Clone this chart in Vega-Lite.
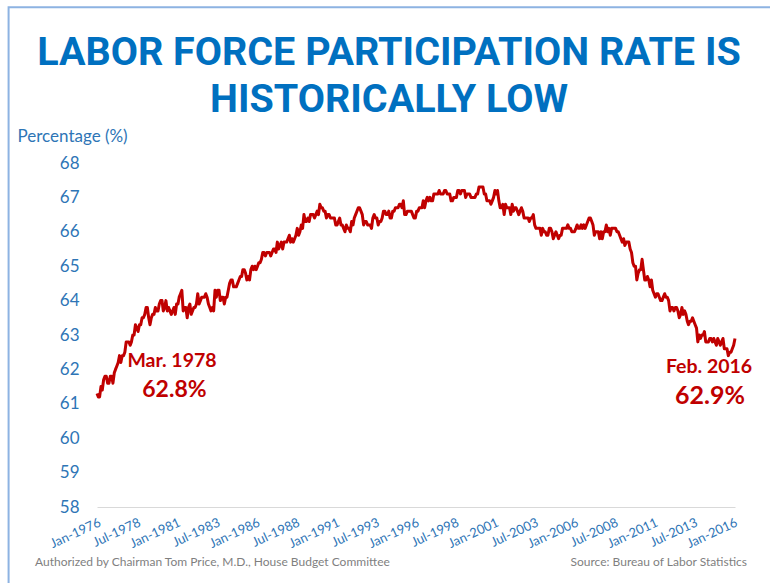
{
  "$schema": "https://vega.github.io/schema/vega-lite/v6.json",
  "autosize": {"type": "none"},
  "width": 638,
  "height": 344,
  "padding": {"left": 97, "top": 163, "right": 35, "bottom": 76},
  "background": "white",
  "config": {"view": {"stroke": null}},
  "title": {
    "text": ["LABOR FORCE PARTICIPATION RATE IS", "HISTORICALLY LOW"],
    "font": "Roboto",
    "fontSize": 39.5,
    "fontWeight": "bold",
    "color": "#0070c0",
    "lineHeight": 47,
    "anchor": "middle",
    "frame": "group",
    "dx": -27,
    "offset": 6,
    "dy": 120
  },
  "resolve": {"axis": {"x": "independent", "y": "independent"}},
  "data": {"values": [
{"date":"1976-01","rate":61.3},{"date":"1976-02","rate":61.2},{"date":"1976-03","rate":61.2},{"date":"1976-04","rate":61.5},{"date":"1976-05","rate":61.4},{"date":"1976-06","rate":61.7},{"date":"1976-07","rate":61.8},{"date":"1976-08","rate":61.8},{"date":"1976-09","rate":61.6},{"date":"1976-10","rate":61.6},{"date":"1976-11","rate":61.8},{"date":"1976-12","rate":61.8},
{"date":"1977-01","rate":61.6},{"date":"1977-02","rate":61.9},{"date":"1977-03","rate":62.0},{"date":"1977-04","rate":62.1},{"date":"1977-05","rate":62.2},{"date":"1977-06","rate":62.4},{"date":"1977-07","rate":62.2},{"date":"1977-08","rate":62.4},{"date":"1977-09","rate":62.4},{"date":"1977-10","rate":62.5},{"date":"1977-11","rate":62.8},{"date":"1977-12","rate":62.8},
{"date":"1978-01","rate":62.8},{"date":"1978-02","rate":62.7},{"date":"1978-03","rate":62.8},{"date":"1978-04","rate":63.0},{"date":"1978-05","rate":63.0},{"date":"1978-06","rate":63.3},{"date":"1978-07","rate":63.2},{"date":"1978-08","rate":63.1},{"date":"1978-09","rate":63.3},{"date":"1978-10","rate":63.3},{"date":"1978-11","rate":63.5},{"date":"1978-12","rate":63.5},
{"date":"1979-01","rate":63.6},{"date":"1979-02","rate":63.8},{"date":"1979-03","rate":63.8},{"date":"1979-04","rate":63.5},{"date":"1979-05","rate":63.3},{"date":"1979-06","rate":63.5},{"date":"1979-07","rate":63.6},{"date":"1979-08","rate":63.6},{"date":"1979-09","rate":63.8},{"date":"1979-10","rate":63.7},{"date":"1979-11","rate":63.7},{"date":"1979-12","rate":63.9},
{"date":"1980-01","rate":64.0},{"date":"1980-02","rate":64.0},{"date":"1980-03","rate":63.7},{"date":"1980-04","rate":63.8},{"date":"1980-05","rate":64.0},{"date":"1980-06","rate":63.7},{"date":"1980-07","rate":63.8},{"date":"1980-08","rate":63.7},{"date":"1980-09","rate":63.6},{"date":"1980-10","rate":63.7},{"date":"1980-11","rate":63.8},{"date":"1980-12","rate":63.6},
{"date":"1981-01","rate":63.9},{"date":"1981-02","rate":63.9},{"date":"1981-03","rate":64.1},{"date":"1981-04","rate":64.2},{"date":"1981-05","rate":64.3},{"date":"1981-06","rate":63.7},{"date":"1981-07","rate":63.8},{"date":"1981-08","rate":63.8},{"date":"1981-09","rate":63.5},{"date":"1981-10","rate":63.8},{"date":"1981-11","rate":63.9},{"date":"1981-12","rate":63.6},
{"date":"1982-01","rate":63.7},{"date":"1982-02","rate":63.8},{"date":"1982-03","rate":63.8},{"date":"1982-04","rate":63.9},{"date":"1982-05","rate":64.2},{"date":"1982-06","rate":63.9},{"date":"1982-07","rate":64.0},{"date":"1982-08","rate":64.1},{"date":"1982-09","rate":64.1},{"date":"1982-10","rate":64.1},{"date":"1982-11","rate":64.2},{"date":"1982-12","rate":64.1},
{"date":"1983-01","rate":63.9},{"date":"1983-02","rate":63.8},{"date":"1983-03","rate":63.7},{"date":"1983-04","rate":63.8},{"date":"1983-05","rate":63.7},{"date":"1983-06","rate":64.3},{"date":"1983-07","rate":64.1},{"date":"1983-08","rate":64.3},{"date":"1983-09","rate":64.3},{"date":"1983-10","rate":64.0},{"date":"1983-11","rate":64.1},{"date":"1983-12","rate":64.1},
{"date":"1984-01","rate":63.9},{"date":"1984-02","rate":64.1},{"date":"1984-03","rate":64.1},{"date":"1984-04","rate":64.3},{"date":"1984-05","rate":64.5},{"date":"1984-06","rate":64.6},{"date":"1984-07","rate":64.6},{"date":"1984-08","rate":64.4},{"date":"1984-09","rate":64.4},{"date":"1984-10","rate":64.4},{"date":"1984-11","rate":64.5},{"date":"1984-12","rate":64.6},
{"date":"1985-01","rate":64.7},{"date":"1985-02","rate":64.7},{"date":"1985-03","rate":64.9},{"date":"1985-04","rate":64.9},{"date":"1985-05","rate":64.8},{"date":"1985-06","rate":64.6},{"date":"1985-07","rate":64.7},{"date":"1985-08","rate":64.6},{"date":"1985-09","rate":64.9},{"date":"1985-10","rate":65.0},{"date":"1985-11","rate":64.9},{"date":"1985-12","rate":65.0},
{"date":"1986-01","rate":64.9},{"date":"1986-02","rate":65.0},{"date":"1986-03","rate":65.1},{"date":"1986-04","rate":65.1},{"date":"1986-05","rate":65.2},{"date":"1986-06","rate":65.4},{"date":"1986-07","rate":65.4},{"date":"1986-08","rate":65.3},{"date":"1986-09","rate":65.4},{"date":"1986-10","rate":65.4},{"date":"1986-11","rate":65.4},{"date":"1986-12","rate":65.3},
{"date":"1987-01","rate":65.4},{"date":"1987-02","rate":65.5},{"date":"1987-03","rate":65.5},{"date":"1987-04","rate":65.4},{"date":"1987-05","rate":65.7},{"date":"1987-06","rate":65.5},{"date":"1987-07","rate":65.6},{"date":"1987-08","rate":65.7},{"date":"1987-09","rate":65.5},{"date":"1987-10","rate":65.7},{"date":"1987-11","rate":65.7},{"date":"1987-12","rate":65.7},
{"date":"1988-01","rate":65.8},{"date":"1988-02","rate":65.9},{"date":"1988-03","rate":65.7},{"date":"1988-04","rate":65.8},{"date":"1988-05","rate":65.7},{"date":"1988-06","rate":65.8},{"date":"1988-07","rate":65.9},{"date":"1988-08","rate":66.1},{"date":"1988-09","rate":65.9},{"date":"1988-10","rate":66.0},{"date":"1988-11","rate":66.2},{"date":"1988-12","rate":66.1},
{"date":"1989-01","rate":66.5},{"date":"1989-02","rate":66.3},{"date":"1989-03","rate":66.3},{"date":"1989-04","rate":66.4},{"date":"1989-05","rate":66.3},{"date":"1989-06","rate":66.5},{"date":"1989-07","rate":66.5},{"date":"1989-08","rate":66.5},{"date":"1989-09","rate":66.4},{"date":"1989-10","rate":66.5},{"date":"1989-11","rate":66.6},{"date":"1989-12","rate":66.5},
{"date":"1990-01","rate":66.8},{"date":"1990-02","rate":66.7},{"date":"1990-03","rate":66.7},{"date":"1990-04","rate":66.6},{"date":"1990-05","rate":66.6},{"date":"1990-06","rate":66.4},{"date":"1990-07","rate":66.5},{"date":"1990-08","rate":66.5},{"date":"1990-09","rate":66.4},{"date":"1990-10","rate":66.4},{"date":"1990-11","rate":66.4},{"date":"1990-12","rate":66.4},
{"date":"1991-01","rate":66.2},{"date":"1991-02","rate":66.2},{"date":"1991-03","rate":66.3},{"date":"1991-04","rate":66.4},{"date":"1991-05","rate":66.2},{"date":"1991-06","rate":66.2},{"date":"1991-07","rate":66.1},{"date":"1991-08","rate":66.0},{"date":"1991-09","rate":66.2},{"date":"1991-10","rate":66.1},{"date":"1991-11","rate":66.1},{"date":"1991-12","rate":66.0},
{"date":"1992-01","rate":66.3},{"date":"1992-02","rate":66.2},{"date":"1992-03","rate":66.4},{"date":"1992-04","rate":66.5},{"date":"1992-05","rate":66.6},{"date":"1992-06","rate":66.7},{"date":"1992-07","rate":66.7},{"date":"1992-08","rate":66.6},{"date":"1992-09","rate":66.5},{"date":"1992-10","rate":66.2},{"date":"1992-11","rate":66.3},{"date":"1992-12","rate":66.3},
{"date":"1993-01","rate":66.2},{"date":"1993-02","rate":66.2},{"date":"1993-03","rate":66.2},{"date":"1993-04","rate":66.1},{"date":"1993-05","rate":66.4},{"date":"1993-06","rate":66.5},{"date":"1993-07","rate":66.4},{"date":"1993-08","rate":66.4},{"date":"1993-09","rate":66.2},{"date":"1993-10","rate":66.3},{"date":"1993-11","rate":66.3},{"date":"1993-12","rate":66.4},
{"date":"1994-01","rate":66.6},{"date":"1994-02","rate":66.6},{"date":"1994-03","rate":66.5},{"date":"1994-04","rate":66.5},{"date":"1994-05","rate":66.6},{"date":"1994-06","rate":66.4},{"date":"1994-07","rate":66.4},{"date":"1994-08","rate":66.6},{"date":"1994-09","rate":66.6},{"date":"1994-10","rate":66.7},{"date":"1994-11","rate":66.7},{"date":"1994-12","rate":66.7},
{"date":"1995-01","rate":66.8},{"date":"1995-02","rate":66.8},{"date":"1995-03","rate":66.7},{"date":"1995-04","rate":66.9},{"date":"1995-05","rate":66.5},{"date":"1995-06","rate":66.5},{"date":"1995-07","rate":66.6},{"date":"1995-08","rate":66.6},{"date":"1995-09","rate":66.6},{"date":"1995-10","rate":66.6},{"date":"1995-11","rate":66.5},{"date":"1995-12","rate":66.4},
{"date":"1996-01","rate":66.4},{"date":"1996-02","rate":66.6},{"date":"1996-03","rate":66.6},{"date":"1996-04","rate":66.7},{"date":"1996-05","rate":66.7},{"date":"1996-06","rate":66.7},{"date":"1996-07","rate":66.9},{"date":"1996-08","rate":66.7},{"date":"1996-09","rate":66.9},{"date":"1996-10","rate":67.0},{"date":"1996-11","rate":66.9},{"date":"1996-12","rate":67.0},
{"date":"1997-01","rate":66.9},{"date":"1997-02","rate":66.9},{"date":"1997-03","rate":67.1},{"date":"1997-04","rate":67.1},{"date":"1997-05","rate":67.1},{"date":"1997-06","rate":67.1},{"date":"1997-07","rate":67.2},{"date":"1997-08","rate":67.1},{"date":"1997-09","rate":67.1},{"date":"1997-10","rate":67.1},{"date":"1997-11","rate":67.2},{"date":"1997-12","rate":67.2},
{"date":"1998-01","rate":67.1},{"date":"1998-02","rate":67.1},{"date":"1998-03","rate":67.1},{"date":"1998-04","rate":66.9},{"date":"1998-05","rate":66.9},{"date":"1998-06","rate":67.0},{"date":"1998-07","rate":67.0},{"date":"1998-08","rate":67.0},{"date":"1998-09","rate":67.2},{"date":"1998-10","rate":67.2},{"date":"1998-11","rate":67.1},{"date":"1998-12","rate":67.2},
{"date":"1999-01","rate":67.2},{"date":"1999-02","rate":67.2},{"date":"1999-03","rate":67.0},{"date":"1999-04","rate":67.1},{"date":"1999-05","rate":67.1},{"date":"1999-06","rate":67.1},{"date":"1999-07","rate":67.0},{"date":"1999-08","rate":67.0},{"date":"1999-09","rate":67.0},{"date":"1999-10","rate":67.0},{"date":"1999-11","rate":67.1},{"date":"1999-12","rate":67.1},
{"date":"2000-01","rate":67.3},{"date":"2000-02","rate":67.3},{"date":"2000-03","rate":67.3},{"date":"2000-04","rate":67.3},{"date":"2000-05","rate":67.1},{"date":"2000-06","rate":67.1},{"date":"2000-07","rate":66.9},{"date":"2000-08","rate":66.9},{"date":"2000-09","rate":66.9},{"date":"2000-10","rate":66.8},{"date":"2000-11","rate":66.9},{"date":"2000-12","rate":67.0},
{"date":"2001-01","rate":67.2},{"date":"2001-02","rate":67.1},{"date":"2001-03","rate":67.2},{"date":"2001-04","rate":66.9},{"date":"2001-05","rate":66.7},{"date":"2001-06","rate":66.7},{"date":"2001-07","rate":66.8},{"date":"2001-08","rate":66.5},{"date":"2001-09","rate":66.8},{"date":"2001-10","rate":66.7},{"date":"2001-11","rate":66.7},{"date":"2001-12","rate":66.7},
{"date":"2002-01","rate":66.5},{"date":"2002-02","rate":66.8},{"date":"2002-03","rate":66.6},{"date":"2002-04","rate":66.7},{"date":"2002-05","rate":66.7},{"date":"2002-06","rate":66.6},{"date":"2002-07","rate":66.5},{"date":"2002-08","rate":66.6},{"date":"2002-09","rate":66.7},{"date":"2002-10","rate":66.6},{"date":"2002-11","rate":66.4},{"date":"2002-12","rate":66.4},
{"date":"2003-01","rate":66.4},{"date":"2003-02","rate":66.4},{"date":"2003-03","rate":66.3},{"date":"2003-04","rate":66.4},{"date":"2003-05","rate":66.4},{"date":"2003-06","rate":66.5},{"date":"2003-07","rate":66.2},{"date":"2003-08","rate":66.1},{"date":"2003-09","rate":66.1},{"date":"2003-10","rate":66.1},{"date":"2003-11","rate":66.1},{"date":"2003-12","rate":65.9},
{"date":"2004-01","rate":66.1},{"date":"2004-02","rate":66.0},{"date":"2004-03","rate":66.0},{"date":"2004-04","rate":65.9},{"date":"2004-05","rate":65.9},{"date":"2004-06","rate":66.1},{"date":"2004-07","rate":66.1},{"date":"2004-08","rate":66.0},{"date":"2004-09","rate":65.8},{"date":"2004-10","rate":65.9},{"date":"2004-11","rate":66.0},{"date":"2004-12","rate":65.9},
{"date":"2005-01","rate":65.8},{"date":"2005-02","rate":65.9},{"date":"2005-03","rate":65.9},{"date":"2005-04","rate":66.1},{"date":"2005-05","rate":66.1},{"date":"2005-06","rate":66.1},{"date":"2005-07","rate":66.1},{"date":"2005-08","rate":66.2},{"date":"2005-09","rate":66.1},{"date":"2005-10","rate":66.1},{"date":"2005-11","rate":66.0},{"date":"2005-12","rate":66.0},
{"date":"2006-01","rate":66.0},{"date":"2006-02","rate":66.1},{"date":"2006-03","rate":66.2},{"date":"2006-04","rate":66.1},{"date":"2006-05","rate":66.1},{"date":"2006-06","rate":66.2},{"date":"2006-07","rate":66.1},{"date":"2006-08","rate":66.2},{"date":"2006-09","rate":66.1},{"date":"2006-10","rate":66.2},{"date":"2006-11","rate":66.3},{"date":"2006-12","rate":66.4},
{"date":"2007-01","rate":66.4},{"date":"2007-02","rate":66.3},{"date":"2007-03","rate":66.2},{"date":"2007-04","rate":65.9},{"date":"2007-05","rate":66.0},{"date":"2007-06","rate":66.0},{"date":"2007-07","rate":66.0},{"date":"2007-08","rate":65.8},{"date":"2007-09","rate":66.0},{"date":"2007-10","rate":65.8},{"date":"2007-11","rate":66.0},{"date":"2007-12","rate":66.0},
{"date":"2008-01","rate":66.2},{"date":"2008-02","rate":66.0},{"date":"2008-03","rate":66.1},{"date":"2008-04","rate":65.9},{"date":"2008-05","rate":66.1},{"date":"2008-06","rate":66.1},{"date":"2008-07","rate":66.1},{"date":"2008-08","rate":66.1},{"date":"2008-09","rate":66.0},{"date":"2008-10","rate":66.0},{"date":"2008-11","rate":65.9},{"date":"2008-12","rate":65.8},
{"date":"2009-01","rate":65.7},{"date":"2009-02","rate":65.8},{"date":"2009-03","rate":65.6},{"date":"2009-04","rate":65.7},{"date":"2009-05","rate":65.7},{"date":"2009-06","rate":65.7},{"date":"2009-07","rate":65.5},{"date":"2009-08","rate":65.4},{"date":"2009-09","rate":65.1},{"date":"2009-10","rate":65.0},{"date":"2009-11","rate":65.0},{"date":"2009-12","rate":64.6},
{"date":"2010-01","rate":64.8},{"date":"2010-02","rate":64.9},{"date":"2010-03","rate":64.9},{"date":"2010-04","rate":65.2},{"date":"2010-05","rate":64.9},{"date":"2010-06","rate":64.6},{"date":"2010-07","rate":64.6},{"date":"2010-08","rate":64.7},{"date":"2010-09","rate":64.6},{"date":"2010-10","rate":64.4},{"date":"2010-11","rate":64.6},{"date":"2010-12","rate":64.3},
{"date":"2011-01","rate":64.2},{"date":"2011-02","rate":64.1},{"date":"2011-03","rate":64.2},{"date":"2011-04","rate":64.2},{"date":"2011-05","rate":64.1},{"date":"2011-06","rate":64.0},{"date":"2011-07","rate":64.0},{"date":"2011-08","rate":64.1},{"date":"2011-09","rate":64.2},{"date":"2011-10","rate":64.1},{"date":"2011-11","rate":64.1},{"date":"2011-12","rate":64.0},
{"date":"2012-01","rate":63.7},{"date":"2012-02","rate":63.8},{"date":"2012-03","rate":63.8},{"date":"2012-04","rate":63.7},{"date":"2012-05","rate":63.8},{"date":"2012-06","rate":63.8},{"date":"2012-07","rate":63.7},{"date":"2012-08","rate":63.5},{"date":"2012-09","rate":63.6},{"date":"2012-10","rate":63.8},{"date":"2012-11","rate":63.6},{"date":"2012-12","rate":63.7},
{"date":"2013-01","rate":63.6},{"date":"2013-02","rate":63.4},{"date":"2013-03","rate":63.3},{"date":"2013-04","rate":63.4},{"date":"2013-05","rate":63.4},{"date":"2013-06","rate":63.5},{"date":"2013-07","rate":63.4},{"date":"2013-08","rate":63.3},{"date":"2013-09","rate":63.2},{"date":"2013-10","rate":62.8},{"date":"2013-11","rate":63.0},{"date":"2013-12","rate":62.9},
{"date":"2014-01","rate":63.0},{"date":"2014-02","rate":63.0},{"date":"2014-03","rate":63.1},{"date":"2014-04","rate":62.8},{"date":"2014-05","rate":62.8},{"date":"2014-06","rate":62.8},{"date":"2014-07","rate":62.9},{"date":"2014-08","rate":62.9},{"date":"2014-09","rate":62.8},{"date":"2014-10","rate":62.9},{"date":"2014-11","rate":62.8},{"date":"2014-12","rate":62.7},
{"date":"2015-01","rate":62.9},{"date":"2015-02","rate":62.8},{"date":"2015-03","rate":62.7},{"date":"2015-04","rate":62.8},{"date":"2015-05","rate":62.9},{"date":"2015-06","rate":62.6},{"date":"2015-07","rate":62.6},{"date":"2015-08","rate":62.6},{"date":"2015-09","rate":62.4},{"date":"2015-10","rate":62.5},{"date":"2015-11","rate":62.5},{"date":"2015-12","rate":62.6},
{"date":"2016-01","rate":62.7},{"date":"2016-02","rate":62.9}
  ]},
  "layer": [
    {
      "mark": {"type": "line", "color": "#c00000", "strokeWidth": 3, "strokeJoin": "round"},
      "encoding": {
        "x": {
          "field": "date", "type": "temporal",
          "scale": {"type": "utc", "domain": [{"year": 1976, "month": 1, "date": 1, "utc": true}, {"year": 2016, "month": 2, "date": 1, "utc": true}]},
          "axis": {
            "orient": "bottom",
            "values": [
              {"year": 1976, "month": 1, "date": 1, "utc": true},
              {"year": 1978, "month": 7, "date": 1, "utc": true},
              {"year": 1981, "month": 1, "date": 1, "utc": true},
              {"year": 1983, "month": 7, "date": 1, "utc": true},
              {"year": 1986, "month": 1, "date": 1, "utc": true},
              {"year": 1988, "month": 7, "date": 1, "utc": true},
              {"year": 1991, "month": 1, "date": 1, "utc": true},
              {"year": 1993, "month": 7, "date": 1, "utc": true},
              {"year": 1996, "month": 1, "date": 1, "utc": true},
              {"year": 1998, "month": 7, "date": 1, "utc": true},
              {"year": 2001, "month": 1, "date": 1, "utc": true},
              {"year": 2003, "month": 7, "date": 1, "utc": true},
              {"year": 2006, "month": 1, "date": 1, "utc": true},
              {"year": 2008, "month": 7, "date": 1, "utc": true},
              {"year": 2011, "month": 1, "date": 1, "utc": true},
              {"year": 2013, "month": 7, "date": 1, "utc": true},
              {"year": 2016, "month": 1, "date": 1, "utc": true}
            ],
            "format": "%b-%Y",
            "labelAngle": -25,
            "labelAlign": "right",
            "labelBaseline": "top",
            "labelPadding": 9,
            "labelFont": "Lato",
            "labelFontSize": 13,
            "labelColor": "#2e75b6",
            "labelOverlap": false,
            "labelFlush": false,
            "labelBound": false,
            "ticks": false,
            "grid": false,
            "domainColor": "#d9d9d9",
            "domainWidth": 1,
            "title": null
          }
        },
        "y": {
          "field": "rate", "type": "quantitative",
          "scale": {"domain": [58, 68], "zero": false, "nice": false},
          "axis": {
            "orient": "left",
            "values": [58, 59, 60, 61, 62, 63, 64, 65, 66, 67, 68],
            "labelFont": "Lato",
            "labelFontSize": 17,
            "labelColor": "#2e75b6",
            "labelPadding": 18,
            "labelOverlap": false,
            "ticks": false,
            "domain": false,
            "grid": false,
            "title": "Percentage (%)",
            "titleAngle": 0,
            "titleAlign": "left",
            "titleBaseline": "alphabetic",
            "titleX": -80,
            "titleY": -22,
            "titleFont": "Lato",
            "titleFontSize": 17,
            "titleFontWeight": "normal",
            "titleColor": "#2e75b6"
          }
        }
      }
    },
    {
      "data": {"values": [{"frame": "slide"}]},
      "mark": {"type": "rect", "fill": "transparent", "stroke": "#8db3e2", "strokeWidth": 2, "clip": false},
      "encoding": {
        "x": {"datum": {"year": 1970, "month": 6, "date": 12, "utc": true}, "type": "temporal", "axis": null},
        "x2": {"datum": {"year": 2035, "month": 1, "date": 1, "utc": true}},
        "y": {"datum": 72.53, "type": "quantitative", "axis": null},
        "y2": {"datum": 50}
      }
    },
    {
      "data": {"values": [{"date": "1978-03", "rate": 62.8, "label": "Mar. 1978", "pct": "62.8%"}]},
      "layer": [
        {
          "mark": {"type": "text", "font": "Lato", "fontSize": 19.5, "fontWeight": "bold", "color": "#c00000", "align": "left", "baseline": "middle", "dx": -4, "dy": 19},
          "encoding": {
            "x": {"field": "date", "type": "temporal", "axis": null},
            "y": {"field": "rate", "type": "quantitative", "axis": null},
            "text": {"field": "label"}
          }
        },
        {
          "mark": {"type": "text", "font": "Lato", "fontSize": 23, "fontWeight": "bold", "color": "#c00000", "align": "center", "baseline": "middle", "dx": 43, "dy": 48},
          "encoding": {
            "x": {"field": "date", "type": "temporal", "axis": null},
            "y": {"field": "rate", "type": "quantitative", "axis": null},
            "text": {"field": "pct"}
          }
        }
      ]
    },
    {
      "data": {"values": [{"date": "2016-02", "rate": 62.9, "label": "Feb. 2016", "pct": "62.9%"}]},
      "layer": [
        {
          "mark": {"type": "text", "font": "Lato", "fontSize": 19.5, "fontWeight": "bold", "color": "#c00000", "align": "center", "baseline": "middle", "dx": -26, "dy": 29},
          "encoding": {
            "x": {"field": "date", "type": "temporal", "axis": null},
            "y": {"field": "rate", "type": "quantitative", "axis": null},
            "text": {"field": "label"}
          }
        },
        {
          "mark": {"type": "text", "font": "Lato", "fontSize": 25, "fontWeight": "bold", "color": "#c00000", "align": "center", "baseline": "middle", "dx": -25, "dy": 58},
          "encoding": {
            "x": {"field": "date", "type": "temporal", "axis": null},
            "y": {"field": "rate", "type": "quantitative", "axis": null},
            "text": {"field": "pct"}
          }
        }
      ]
    },
    {
      "data": {"values": [{"note": "Authorized by Chairman Tom Price, M.D., House Budget Committee"}]},
      "mark": {"type": "text", "font": "Lato", "fontSize": 12, "color": "#7f7f7f", "align": "left", "baseline": "middle", "dx": -62, "dy": 55},
      "encoding": {
        "x": {"datum": {"year": 1976, "month": 1, "date": 1, "utc": true}, "type": "temporal", "axis": null},
        "y": {"datum": 58, "type": "quantitative", "axis": null},
        "text": {"field": "note"}
      }
    },
    {
      "data": {"values": [{"note": "Source: Bureau of Labor Statistics"}]},
      "mark": {"type": "text", "font": "Lato", "fontSize": 12, "color": "#7f7f7f", "align": "right", "baseline": "middle", "dx": 12, "dy": 55},
      "encoding": {
        "x": {"datum": {"year": 2016, "month": 2, "date": 1, "utc": true}, "type": "temporal", "axis": null},
        "y": {"datum": 58, "type": "quantitative", "axis": null},
        "text": {"field": "note"}
      }
    }
  ]
}
